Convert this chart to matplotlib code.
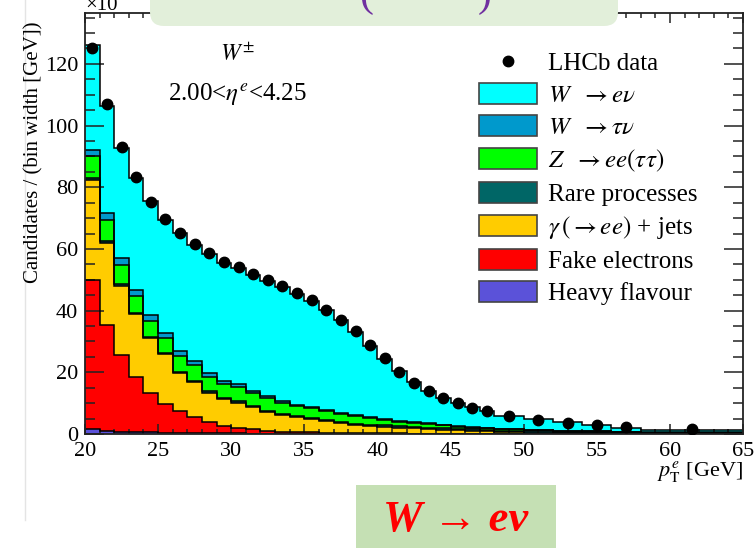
import numpy as np
import matplotlib
matplotlib.use('Agg')
import matplotlib.pyplot as plt
from matplotlib.patches import Patch, FancyBboxPatch, Rectangle
from matplotlib.lines import Line2D
from matplotlib.ticker import MultipleLocator
from matplotlib.transforms import IdentityTransform

# ---------------- data (units: 10^3 candidates / GeV) ----------------
edges = list(range(20, 49)) + [50, 52, 54, 56, 58, 65]

heavy_flavour = [1.5, 1.0, 0.8, 0.6, 0.5, 0.4, 0.35, 0.3, 0.25, 0.2,
                 0.18, 0.15, 0.12, 0.1, 0.1, 0.08, 0.07, 0.06, 0.05, 0.05,
                 0.04, 0.04, 0.03, 0.03, 0.03, 0.02, 0.02, 0.02, 0.02, 0.01,
                 0.01, 0.01, 0.01, 0.01]
fake_electrons = [48.5, 34.5, 24.8, 17.8, 12.9, 9.3, 7.15, 5.1, 3.75, 2.5,
                  1.92, 1.35, 0.98, 0.7, 0.5, 0.42, 0.33, 0.29, 0.25, 0.2,
                  0.16, 0.15, 0.13, 0.12, 0.1, 0.09, 0.08, 0.07, 0.06, 0.05,
                  0.04, 0.03, 0.02, 0.01]
gamma_jets = [32.5, 26.5, 22.5, 20.5, 17.8, 16.1, 12.3, 11.4, 9.4, 8.5,
              8.1, 7.1, 6.1, 5.4, 4.8, 4.3, 3.7, 3.15, 2.6, 2.35,
              2.2, 1.9, 1.75, 1.55, 1.3, 1.15, 1.0, 0.85, 0.65, 0.35,
              0.25, 0.15, 0.12, 0.08]
rare_processes = [0.5, 0.45, 0.45, 0.4, 0.4, 0.4, 0.4, 0.4, 0.4, 0.4,
                  0.4, 0.4, 0.4, 0.4, 0.4, 0.4, 0.4, 0.4, 0.4, 0.4,
                  0.4, 0.4, 0.4, 0.4, 0.4, 0.4, 0.4, 0.4, 0.4, 0.45,
                  0.45, 0.45, 0.4, 0.3]
z_ee = [7.1, 7.0, 6.3, 5.5, 5.0, 4.8, 5.0, 5.2, 4.7, 4.6,
        4.7, 4.3, 4.2, 3.6, 3.3, 3.1, 3.0, 2.7, 2.6, 2.1,
        1.8, 1.5, 1.3, 1.1, 0.95, 0.75, 0.6, 0.45, 0.35, 0.35,
        0.25, 0.2, 0.15, 0.05]
w_taunu = [2.1, 2.1, 2.1, 2.0, 2.0, 1.9, 1.6, 1.3, 1.2, 1.0,
           0.8, 0.65, 0.55, 0.5, 0.4, 0.35, 0.3, 0.3, 0.3, 0.3,
           0.3, 0.3, 0.3, 0.3, 0.3, 0.25, 0.25, 0.2, 0.2, 0.15,
           0.1, 0.1, 0.1, 0.05]
w_enu = [34.0, 34.8, 35.7, 36.1, 37.0, 36.6, 38.3, 37.5, 38.5, 38.4,
         37.6, 37.7, 37.3, 36.9, 36.0, 34.5, 32.3, 29.9, 26.8, 23.1,
         19.4, 16.2, 13.0, 10.6, 8.7, 7.35, 6.25, 5.4, 4.0, 3.45,
         2.65, 2.0, 1.2, 0.75]
lhcb_data = [125.3, 107.1, 93.1, 83.4, 75.3, 69.6, 65.3, 61.5, 58.8, 55.9,
             54.2, 51.9, 49.9, 48.0, 45.6, 43.4, 40.2, 37.0, 33.4, 28.8,
             24.5, 20.2, 16.6, 13.9, 11.6, 9.9, 8.5, 7.5, 5.8, 4.5,
             3.7, 2.9, 2.4, 1.5]

legend_labels = ['LHCb data',
                 r'$W\ \ \rightarrow e\nu$',
                 r'$W\ \ \rightarrow \tau\nu$',
                 r'$Z\ \ \rightarrow ee(\tau\tau)$',
                 'Rare processes',
                 r'$\gamma\,(\rightarrow ee)$ + jets',
                 'Fake electrons',
                 'Heavy flavour']

# ---------------- style ----------------
plt.rcParams['font.family'] = ['Liberation Serif', 'DejaVu Serif']
plt.rcParams['mathtext.fontset'] = 'stix'

W, H = 756, 548
fig = plt.figure(figsize=(W / 100, H / 100), dpi=100)
fig.patch.set_facecolor('white')


def fx(x):
    return x / W


def fy(y):
    return 1 - y / H


ax = fig.add_axes([fx(85), fy(434), (743 - 85) / W, (434 - 13) / H])

col_hf = '#5B52D9'
col_fake = '#FF0000'
col_gam = '#FFCC00'
col_rare = '#006666'
col_z = '#00FF00'
col_tau = '#0099CC'
col_enu = '#00FFFF'

layers = [(heavy_flavour, col_hf), (fake_electrons, col_fake), (gamma_jets, col_gam),
          (rare_processes, col_rare), (z_ee, col_z), (w_taunu, col_tau), (w_enu, col_enu)]

edges_a = np.array(edges, dtype=float)
bottom = np.zeros(len(lhcb_data))
tops = []
for vals, c in layers:
    top = bottom + np.array(vals)
    ax.stairs(top, edges_a, baseline=bottom, fill=True, color=c, lw=0, zorder=1)
    tops.append(top)
    bottom = top
for top in tops:
    ax.stairs(top, edges_a, baseline=None, color='black', lw=1.1, zorder=2)

centers = 0.5 * (edges_a[:-1] + edges_a[1:])
ax.plot(centers, lhcb_data, 'o', color='black', ms=7.5, zorder=5)

ax.set_xlim(20, 65)
ax.set_ylim(0, 136.5)
ax.xaxis.set_major_locator(MultipleLocator(5))
ax.xaxis.set_minor_locator(MultipleLocator(1))
ax.yaxis.set_major_locator(MultipleLocator(20))
ax.yaxis.set_minor_locator(MultipleLocator(5))
ax.tick_params(which='both', direction='in', top=True, right=True, width=1.1,
               labelsize=16, pad=5, color='#222222')
ax.tick_params(axis='x', which='both', pad=6)
ax.tick_params(axis='x', which='major', length=7.5)
ax.tick_params(axis='x', which='minor', length=3.8)
ax.tick_params(axis='y', which='major', length=14)
ax.tick_params(axis='y', which='minor', length=7)
for s in ax.spines.values():
    s.set_linewidth(1.3)
    s.set_color('#222222')

# legend
handles = [Line2D([], [], marker='o', ls='', color='black', ms=7.5)]
for c in [col_enu, col_tau, col_z, col_rare, col_gam, col_fake, col_hf]:
    handles.append(Patch(facecolor=c, edgecolor='#444444', lw=1.2))
fig.legend(handles, legend_labels, loc='upper left', bbox_to_anchor=(fx(479), fy(51)),
           frameon=False, fontsize=18, handlelength=2.3, handleheight=0.92,
           handletextpad=0.45, labelspacing=0.32, borderpad=0, borderaxespad=0)

# annotations
fig.text(fx(237), fy(55), r'$W^{\pm}$', ha='center', va='center', fontsize=17)
fig.text(fx(237), fy(94), r'2.00<$\eta^{e}$<4.25', ha='center', va='center', fontsize=18)
fig.text(fx(743), fy(472), r'$p_{\mathrm{T}}^{e}$ [GeV]', ha='right', va='center', fontsize=16)
fig.text(fx(34), fy(152), 'Candidates / (bin width [GeV])', rotation=90,
         ha='center', va='center', fontsize=15)
fig.text(fx(85), fy(10), '×10', ha='left', va='baseline', fontsize=15)

# faint slide border on the left
fig.add_artist(Line2D([25, 25], [H, H - 520], transform=IdentityTransform(),
                      color='#E4E4E4', lw=1))

# top green callout box (partially visible)
top_box = FancyBboxPatch((150, H - 26), 468, 60, boxstyle='round,pad=0,rounding_size=14',
                         transform=IdentityTransform(), facecolor='#E2EFDA',
                         edgecolor='none', zorder=10)
fig.add_artist(top_box)
fig.text(fx(366), fy(6), '(', color='#7030A0', fontsize=30, ha='center',
         va='baseline', zorder=11)
fig.text(fx(485), fy(6), ')', color='#7030A0', fontsize=30, ha='center',
         va='baseline', zorder=11)

# bottom green label box
bot_box = Rectangle((356, 0), 200, H - 485, transform=IdentityTransform(),
                    facecolor='#C5E0B4', edgecolor='none', zorder=10)
fig.add_artist(bot_box)
fig.text(fx(456), fy(520), 'W → eν', color='#FF0000', fontsize=32, fontweight='bold',
         fontstyle='italic', ha='center', va='center', zorder=11,
         family=['Liberation Serif', 'DejaVu Serif'])

fig.savefig('out.png', dpi=100)
